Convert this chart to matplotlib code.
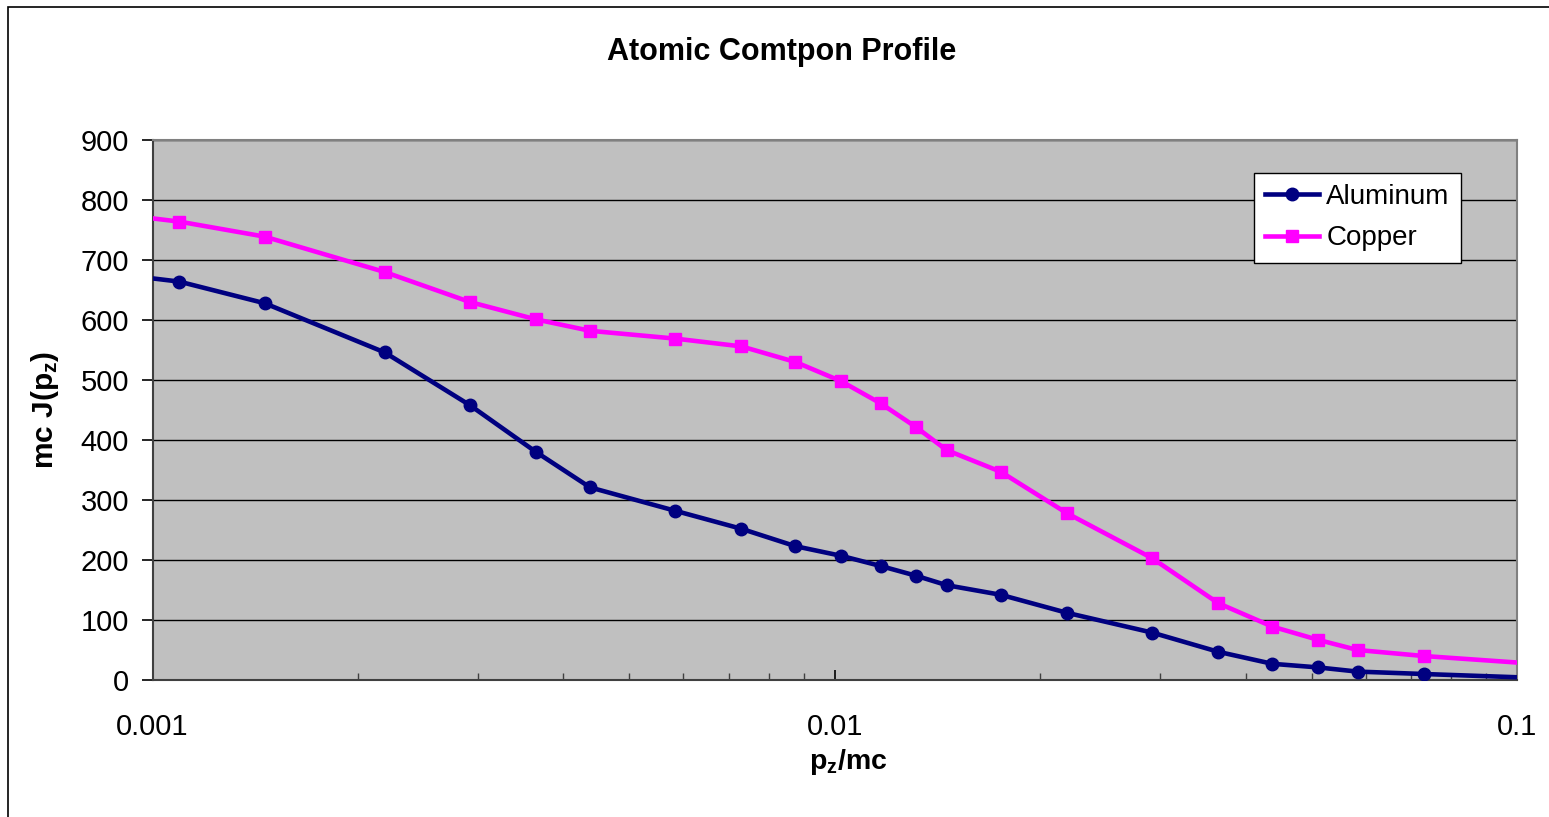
import numpy as np
import matplotlib
matplotlib.use('Agg')
import matplotlib.pyplot as plt
from matplotlib.patches import Rectangle
from matplotlib.ticker import FixedLocator, LogLocator, NullFormatter


# momentum points in atomic units, converted to p_z/mc below
MC_AU = 137.036
pz_au = [0.1, 0.15, 0.2, 0.3, 0.4, 0.5, 0.6, 0.8, 1.0, 1.2, 1.4, 1.6,
         1.8, 2.0, 2.4, 3.0, 4.0, 5.0, 6.0, 7.0, 8.0, 10.0, 15.0]
aluminum = [688, 664, 628, 546, 458, 380, 321, 282, 252, 223, 207, 190,
            174, 158, 142, 112, 79, 47, 27, 21, 14, 10, 3]
copper = [788, 764, 739, 680, 630, 601, 582, 569, 556, 530, 498, 461,
          422, 383, 347, 278, 203, 128, 89, 67, 50, 40, 26]

x_ticks = [0.001, 0.01, 0.1]
x_tick_labels = ['0.001', '0.01', '0.1']
y_ticks = list(range(0, 1000, 100))

plt.rcParams['font.family'] = ['Liberation Sans', 'DejaVu Sans']
plt.rcParams['mathtext.fontset'] = 'custom'
plt.rcParams['mathtext.rm'] = 'Liberation Sans'
plt.rcParams['mathtext.bf'] = 'Liberation Sans:bold'
plt.rcParams['mathtext.it'] = 'Liberation Sans:italic'

W, H = 1549, 817
fig = plt.figure(figsize=(W / 100, H / 100), dpi=100)

# chart border (cropped on right and bottom)
fig.patches.append(Rectangle((8 / W, -0.1), 1.2, 1 - 7 / H + 0.1,
                             transform=fig.transFigure, fill=False,
                             edgecolor='black', linewidth=1.2))

left, right, top, bottom = 152.5, 1517, 140, 680
ax = fig.add_axes([left / W, 1 - bottom / H, (right - left) / W, (bottom - top) / H])
ax.set_facecolor('#C0C0C0')

x = np.array(pz_au) / MC_AU
ax.plot(x, aluminum, color='#000080', linewidth=3.3, marker='o',
        markersize=9, label='Aluminum', zorder=3)
ax.plot(x, copper, color='#FF00FF', linewidth=3.3, marker='s',
        markersize=9, label='Copper', zorder=3)

ax.set_xscale('log')
ax.set_xlim(0.001, 0.1)
ax.set_ylim(0, 900)
ax.xaxis.set_major_locator(FixedLocator(x_ticks))
ax.set_xticklabels(x_tick_labels)
ax.xaxis.set_minor_locator(LogLocator(base=10, subs=np.arange(2, 10)))
ax.xaxis.set_minor_formatter(NullFormatter())
ax.set_yticks(y_ticks)

ax.yaxis.grid(True, color='black', linewidth=1.0)
ax.set_axisbelow(True)

for s in ax.spines.values():
    s.set_color('#808080')
    s.set_linewidth(1.5)
ax.spines['left'].set_color('#404040')
ax.spines['bottom'].set_color('#404040')

ax.tick_params(axis='x', which='major', direction='in', length=7, width=1.2,
               labelsize=21, pad=24, colors='black')
ax.tick_params(axis='x', which='minor', direction='in', length=5, width=1.0,
               colors='#404040')
ax.tick_params(axis='y', direction='out', length=8, width=1.2,
               labelsize=21, pad=9, colors='black')

fig.text(782 / W, 1 - 52 / H, 'Atomic Comtpon Profile', ha='center',
         va='center', fontsize=22, fontweight='bold')
fig.text(848 / W, 1 - 762 / H, r'$\mathbf{p_z/mc}$', ha='center',
         va='center', fontsize=20.5)
fig.text(45 / W, 1 - 410 / H, r'$\mathbf{mc\ J(p_z)}$', ha='center',
         va='center', fontsize=21.5, rotation=90)

leg = ax.legend(loc='upper left', bbox_to_anchor=(1254 / W, 1 - 173 / H),
                bbox_transform=fig.transFigure, fontsize=20, frameon=True,
                fancybox=False, framealpha=1, edgecolor='black',
                borderaxespad=0, handlelength=1.95, handletextpad=0.25,
                borderpad=0.4, labelspacing=0.55)
leg.get_frame().set_linewidth(1.0)

fig.savefig('out.png', dpi=100)
